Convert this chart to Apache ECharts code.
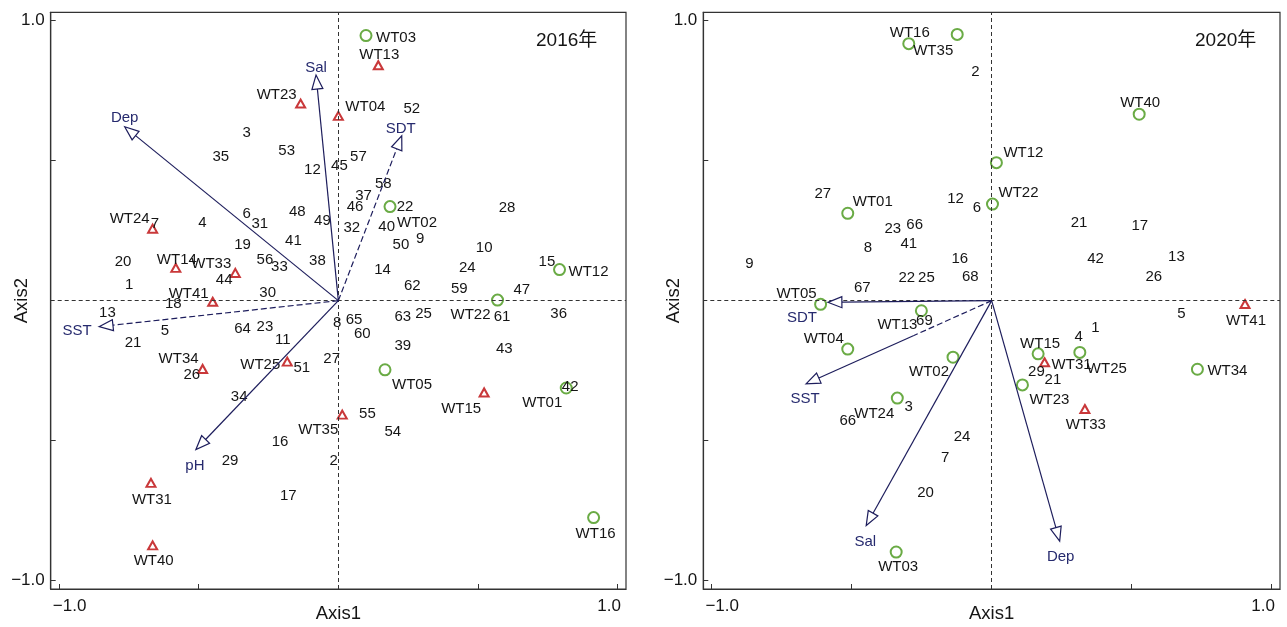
<!DOCTYPE html>
<html><head><meta charset="utf-8">
<script src="https://cdn.jsdelivr.net/npm/echarts@6/dist/echarts.min.js"></script>
<style>html,body{margin:0;padding:0;background:#fff}#c{width:1287px;height:627px}</style>
</head><body><div id="c"></div><script>
// ---------- DATA: 2016 ----------
const spNames2016 = ['1','2','3','4','5','6','7','8','9','10','11','12','13','14','15','16','17','18','19','20','21','22','23','24','25','26','27','28','29','30','31','32','33','34','35','36','37','38','39','40','41','42','43','44','45','46','47','48','49','50','51','52','53','54','55','56','57','58','59','60','61','62','63','64','65'];
const spX2016 = [-0.749,-0.017,-0.328,-0.487,-0.621,-0.328,-0.657,-0.004,0.293,0.522,-0.199,-0.093,-0.827,0.158,0.747,-0.209,-0.179,-0.591,-0.343,-0.771,-0.735,0.239,-0.263,0.462,0.305,-0.525,-0.024,0.604,-0.388,-0.253,-0.281,0.048,-0.211,-0.355,-0.421,0.789,0.090,-0.075,0.231,0.173,-0.161,0.830,0.594,-0.409,0.004,0.060,0.657,-0.147,-0.057,0.224,-0.131,0.263,-0.185,0.195,0.104,-0.263,0.072,0.161,0.433,0.086,0.586,0.265,0.231,-0.343,0.056];
const spY2016 = [0.055,-0.571,0.601,0.277,-0.109,0.310,0.276,-0.081,0.221,0.189,-0.141,0.467,-0.043,0.111,0.138,-0.506,-0.696,-0.010,0.198,0.138,-0.150,0.336,-0.093,0.118,-0.048,-0.265,-0.209,0.332,-0.571,0.029,0.275,0.259,0.120,-0.342,0.515,-0.048,0.375,0.142,-0.161,0.265,0.213,-0.309,-0.173,0.073,0.482,0.334,0.037,0.316,0.284,0.198,-0.241,0.684,0.536,-0.470,-0.405,0.147,0.514,0.417,0.043,-0.117,-0.058,0.053,-0.058,-0.102,-0.069];
const siteNames2016 = ['WT03','WT13','WT04','WT23','WT24','WT14','WT33','WT41','WT02','WT12','WT22','WT05','WT15','WT01','WT35','WT16','WT34','WT25','WT31','WT40'];
const siteX2016 = [0.099,0.143,0.000,-0.135,-0.665,-0.582,-0.369,-0.450,0.185,0.792,0.570,0.167,0.522,0.816,0.014,0.914,-0.486,-0.183,-0.671,-0.665];
const siteY2016 = [0.947,0.841,0.660,0.704,0.257,0.117,0.099,-0.004,0.336,0.111,0.002,-0.247,-0.328,-0.312,-0.407,-0.775,-0.244,-0.218,-0.651,-0.874];
const siteGroup2016 = ['B','A','A','A','A','A','A','A','B','B','B','B','A','B','A','B','A','A','A','A'];
const envNames2016 = ['Dep','Sal','SDT','SST','pH'];
const envX2016 = [-0.765,-0.080,0.227,-0.857,-0.510];
const envY2016 = [0.621,0.806,0.589,-0.093,-0.532];

// ---------- DATA: 2020 ----------
const spNames2020 = ['2','27','12','6','23','66','8','41','9','16','22','25','68','67','21','17','42','13','26','5','69','3','66','24','7','20','1','4','29','21'];
const spX2020 = [-0.058,-0.603,-0.129,-0.053,-0.353,-0.275,-0.442,-0.296,-0.865,-0.114,-0.303,-0.233,-0.076,-0.462,0.312,0.529,0.371,0.660,0.579,0.678,-0.240,-0.296,-0.514,-0.106,-0.166,-0.236,0.371,0.311,0.160,0.219];
const spY2020 = [0.819,0.383,0.365,0.333,0.258,0.270,0.187,0.202,0.133,0.151,0.082,0.082,0.086,0.046,0.278,0.266,0.149,0.155,0.086,-0.048,-0.071,-0.378,-0.431,-0.485,-0.562,-0.687,-0.098,-0.128,-0.253,-0.283];
const siteNames2020 = ['WT16','WT35','WT40','WT12','WT22','WT01','WT05','WT13','WT04','WT02','WT24','WT03','WT15','WT31','WT25','WT23','WT33','WT34','WT41'];
const siteX2020 = [-0.296,-0.123,0.527,0.017,0.003,-0.514,-0.611,-0.251,-0.514,-0.138,-0.337,-0.341,0.166,0.189,0.315,0.110,0.333,0.735,0.905];
const siteY2020 = [0.918,0.951,0.666,0.493,0.345,0.312,-0.013,-0.036,-0.173,-0.202,-0.348,-0.898,-0.190,-0.220,-0.185,-0.301,-0.387,-0.245,-0.012];
const siteGroup2020 = ['B','B','B','B','B','B','B','B','B','B','B','B','B','A','B','B','A','B','A'];
const envNames2020 = ['SDT','SST','Sal','Dep'];
const envX2020 = [-0.585,-0.663,-0.448,0.243];
const envY2020 = [-0.006,-0.297,-0.803,-0.859];

// ---------- STYLE (label placement, line styles) ----------
const siteLabelOffset2016 = {WT03:[30,2],WT13:[1,-10],WT04:[27,-9],WT23:[-24,-9],WT24:[-23,-10],WT14:[1,-8],WT33:[-24,-9],WT41:[-24,-8],WT02:[27,16],WT12:[29,2],WT22:[-27,15],WT05:[27,15],WT15:[-23,16],WT01:[-24,15],WT35:[-24,15],WT16:[2,16],WT34:[-24,-10],WT25:[-27,3],WT31:[1,17],WT40:[1,16]};
const siteLabelOffset2020 = {WT16:[1,-11],WT35:[-24,16],WT40:[1,-11],WT12:[27,-10],WT22:[26,-11],WT01:[25,-11],WT05:[-24,-10],WT13:[-24,14],WT04:[-24,-10],WT02:[-24,15],WT24:[-23,16],WT03:[2,15],WT15:[2,-10],WT31:[27,3],WT25:[27,16],WT23:[27,15],WT33:[1,16],WT34:[30,2],WT41:[1,17]};
const envStyle2016 = {Dep:{off:[0,-9],dash:0},Sal:{off:[0,-7],dash:0},SDT:{off:[-1,-7],dash:1},SST:{off:[-22,4],dash:1},pH:{off:[-1,16],dash:0}};
const envStyle2020 = {SDT:{off:[-26,16],dash:0},SST:{off:[-1,15],dash:0.45},Sal:{off:[-1,16],dash:0},Dep:{off:[1,16],dash:0}};

const FONT = "'Liberation Sans', Arial, 'Noto Sans CJK SC', sans-serif";
const TXT = '#151515';
const NAVY = '#1d1d5c';
const NAVY_TXT = '#262a6e';
const RED = '#c9383a';
const GREEN = '#6aab45';
const AX = '#333';

function xAxisCfg(gi) {
  return {
    type:'value', gridIndex:gi, min:-1.03, max:1.03,
    name:'Axis1', nameLocation:'middle', nameGap:16, nameMoveOverlap:false,
    nameTextStyle:{fontSize:18.5, color:TXT, fontFamily:FONT},
    axisLine:{show:true, onZero:false, lineStyle:{color:AX, width:1.2}},
    axisTick:{show:true, inside:true, length:5, customValues:[-1,-0.5,0.5,1], lineStyle:{color:AX, width:1}},
    axisLabel:{show:true, customValues:[-1,1], margin:9, hideOverlap:false,
      formatter: v => v < 0 ? '{a|−1.0}' : '{b|1.0}',
      rich:{a:{padding:[0,0,0,21], fontSize:17, fontFamily:FONT, color:TXT},
            b:{padding:[0,17,0,0], fontSize:17, fontFamily:FONT, color:TXT}}},
    splitLine:{show:false}
  };
}
function yAxisCfg(gi) {
  return {
    type:'value', gridIndex:gi, min:-1.03, max:1.03,
    name:'Axis2', nameLocation:'middle', nameGap:20, nameMoveOverlap:false,
    nameTextStyle:{fontSize:18.5, color:TXT, fontFamily:FONT},
    axisLine:{show:true, onZero:false, lineStyle:{color:AX, width:1.2}},
    axisTick:{show:true, inside:true, length:5, customValues:[-1,-0.5,0.5,1], lineStyle:{color:AX, width:1}},
    axisLabel:{show:true, customValues:[-1,1], margin:6, hideOverlap:false,
      formatter: v => v < 0 ? '−1.0' : '1.0', fontSize:17, fontFamily:FONT, color:TXT},
    splitLine:{show:false}
  };
}

function speciesSeries(gi, names, xs, ys) {
  return {
    type:'scatter', xAxisIndex:gi, yAxisIndex:gi, symbol:'circle', symbolSize:1,
    itemStyle:{color:'rgba(0,0,0,0)'}, emphasis:{disabled:true}, silent:true, z:4,
    label:{show:true, position:'inside', formatter:'{b}', color:TXT, fontSize:15, fontFamily:FONT, textBorderWidth:0, opacity:1},
    labelLayout:{hideOverlap:false},
    data: names.map((n,i)=>({name:n, value:[xs[i], ys[i]]})),
    markLine:{silent:true, symbol:['none','none'], animation:false, label:{show:false},
      lineStyle:{type:[4,3], color:AX, width:1},
      emphasis:{disabled:true},
      data:[{xAxis:0},{yAxis:0}]}
  };
}

function siteSeries(gi, names, xs, ys, groups, grp, offsets) {
  const data = [];
  names.forEach((n,i)=>{ if (groups[i]===grp) data.push({name:n, value:[xs[i], ys[i]]}); });
  const tri = grp === 'A';
  return {
    type:'scatter', xAxisIndex:gi, yAxisIndex:gi,
    symbol: tri ? 'emptyTriangle' : 'emptyCircle',
    symbolSize: tri ? [9,8] : 11,
    itemStyle:{color: tri ? RED : GREEN, borderWidth:1.2, opacity:1},
    emphasis:{disabled:true}, silent:true, z:3,
    label:{show:true, position:'inside', formatter:'{b}', color:TXT, fontSize:15, fontFamily:FONT, textBorderWidth:0},
    labelLayout: function(p) {
      const o = offsets[data[p.dataIndex].name] || [0,0];
      return {dx:o[0], dy:o[1], hideOverlap:false};
    },
    data
  };
}

function envSeries(gi, names, xs, ys, styles) {
  return {
    type:'custom', xAxisIndex:gi, yAxisIndex:gi, z:5, silent:true, clip:false,
    data: names.map((n,i)=>[xs[i], ys[i]]),
    renderItem: function(params, api) {
      const i = params.dataIndex;
      const nm = names[i];
      const st = styles[nm];
      const o = api.coord([0,0]);
      const t = api.coord([api.value(0), api.value(1)]);
      const dx = t[0]-o[0], dy = t[1]-o[1];
      const len = Math.hypot(dx,dy);
      const ux = dx/len, uy = dy/len;
      const L = 14, W = 5.5;
      const bx = t[0]-ux*L, by = t[1]-uy*L;
      const p1 = [bx - uy*W, by + ux*W], p2 = [bx + uy*W, by - ux*W];
      const children = [];
      const lineStyleSolid = {stroke:NAVY, lineWidth:1.2};
      const lineStyleDash = {stroke:NAVY, lineWidth:1.2, lineDash:[6,3]};
      if (st.dash > 0) {
        const mx = o[0] + (bx-o[0])*st.dash, my = o[1] + (by-o[1])*st.dash;
        children.push({type:'line', shape:{x1:o[0], y1:o[1], x2:mx, y2:my}, style:lineStyleDash});
        if (st.dash < 1) children.push({type:'line', shape:{x1:mx, y1:my, x2:bx, y2:by}, style:lineStyleSolid});
      } else {
        children.push({type:'line', shape:{x1:o[0], y1:o[1], x2:bx, y2:by}, style:lineStyleSolid});
      }
      children.push({type:'polygon', shape:{points:[t, p1, p2]}, style:{fill:'#fff', stroke:NAVY, lineWidth:1.2}});
      children.push({type:'text', x:t[0]+st.off[0], y:t[1]+st.off[1],
        style:{text:nm, fill:NAVY_TXT, font:'15px ' + FONT, align:'center', verticalAlign:'middle', textAlign:'center', textVerticalAlign:'middle'}});
      return {type:'group', children};
    }
  };
}

const chart = echarts.init(document.getElementById('c'), null, {renderer:'canvas'});
chart.setOption({
  animation:false,
  backgroundColor:'#fff',
  title:[
    {text:'2016年', left:536, top:31, padding:0, textStyle:{fontSize:19, fontWeight:'normal', color:TXT, fontFamily:FONT}},
    {text:'2020年', left:1195, top:31, padding:0, textStyle:{fontSize:19, fontWeight:'normal', color:TXT, fontFamily:FONT}}
  ],
  grid:[
    {left:50.7, top:12.3, width:575.3, height:576.7, show:true, borderColor:AX, borderWidth:1.2, backgroundColor:'transparent', containLabel:false, outerBoundsMode:'none'},
    {left:703.3, top:12.3, width:576.7, height:576.7, show:true, borderColor:AX, borderWidth:1.2, backgroundColor:'transparent', containLabel:false, outerBoundsMode:'none'}
  ],
  xAxis:[xAxisCfg(0), xAxisCfg(1)],
  yAxis:[yAxisCfg(0), yAxisCfg(1)],
  series:[
    speciesSeries(0, spNames2016, spX2016, spY2016),
    siteSeries(0, siteNames2016, siteX2016, siteY2016, siteGroup2016, 'A', siteLabelOffset2016),
    siteSeries(0, siteNames2016, siteX2016, siteY2016, siteGroup2016, 'B', siteLabelOffset2016),
    envSeries(0, envNames2016, envX2016, envY2016, envStyle2016),
    speciesSeries(1, spNames2020, spX2020, spY2020),
    siteSeries(1, siteNames2020, siteX2020, siteY2020, siteGroup2020, 'A', siteLabelOffset2020),
    siteSeries(1, siteNames2020, siteX2020, siteY2020, siteGroup2020, 'B', siteLabelOffset2020),
    envSeries(1, envNames2020, envX2020, envY2020, envStyle2020)
  ]
});
</script></body></html>
